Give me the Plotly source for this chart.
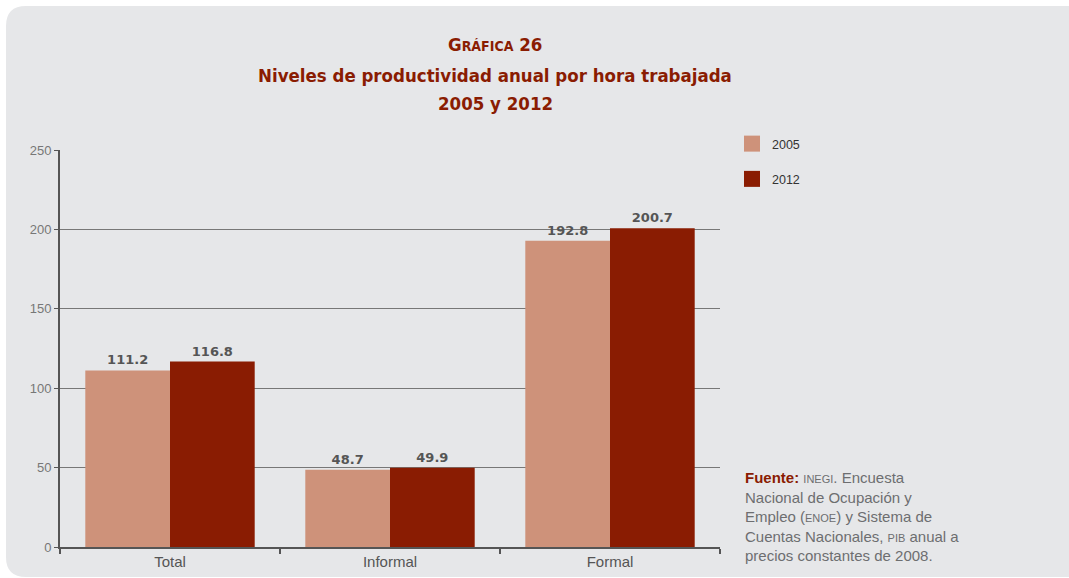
import plotly.graph_objects as go

categories = ["Total", "Informal", "Formal"]
years = ["2005", "2012"]
values_2005 = [111.2, 48.7, 192.8]
values_2012 = [116.8, 49.9, 200.7]
y_ticks = [0, 50, 100, 150, 200, 250]

W, H = 1069, 578
L, R, T, B = 60, 720, 150, 547  # plot area in pixels


def px(x, y):
    # pixel -> paper coords
    return (x - L) / (R - L), (B - y) / (B - T)


def panel_path(x0, y0, x1, y1, r):
    pts = [
        ("M", (x0 + r, y0)), ("L", (x1, y0)), ("L", (x1, y1)), ("L", (x0 + r, y1)),
        ("Q", (x0, y1), (x0, y1 - r)), ("L", (x0, y0 + r)), ("Q", (x0, y0), (x0 + r, y0)),
    ]
    out = ""
    for p in pts:
        cmd, coords = p[0], p[1:]
        out += cmd + " ".join("%.5f,%.5f" % px(*c) for c in coords) + " "
    return out + "Z"


col_2005 = "#CE927A"
col_2012 = "#8A1C02"
red = "#8A1C02"

fig = go.Figure()
for name, vals, col in [(years[0], values_2005, col_2005), (years[1], values_2012, col_2012)]:
    fig.add_trace(go.Bar(
        x=categories, y=vals, name=name, marker_color=col, marker_line_width=0,
        texttemplate="<b>%{y:.1f}</b>", textposition="outside", cliponaxis=False,
        textfont=dict(family="DejaVu Sans, sans-serif", size=13, color="#555"),
        showlegend=False,
    ))
    # bigger legend swatch
    fig.add_trace(go.Scatter(
        x=[None], y=[None], mode="markers", name=name, legendgroup=name,
        marker=dict(symbol="square", size=16, color=col),
    ))

fig.update_layout(
    width=W, height=H,
    margin=dict(l=L, r=W - R, t=T, b=H - B),
    paper_bgcolor="white", plot_bgcolor="rgba(0,0,0,0)",
    barmode="group", bargap=0.23, bargroupgap=0,
    font=dict(family="Liberation Sans, Arial, sans-serif", color="#555"),
    legend=dict(
        x=px(732, 0)[0], y=px(0, 129)[1], xanchor="left", yanchor="top",
        bgcolor="rgba(0,0,0,0)", font=dict(size=12.5, color="#333"),
        tracegroupgap=16, traceorder="grouped", itemsizing="trace",
    ),
    xaxis=dict(
        showline=True, linecolor="#555", linewidth=2, ticks="outside", tickson="boundaries",
        tickcolor="#555", ticklen=5, tickwidth=2, showgrid=False, automargin=False,
        tickfont=dict(size=15, color="#555"),
    ),
    yaxis=dict(
        range=[0, 250], tickvals=y_ticks, showline=True, linecolor="#555", linewidth=2,
        ticks="outside", tickcolor="#555", ticklen=4, tickwidth=1, automargin=False,
        showgrid=True, gridcolor="#777", gridwidth=1, zeroline=False,
        tickfont=dict(size=13, color="#777"),
    ),
    shapes=[dict(
        type="path", xref="paper", yref="paper", path=panel_path(6, 6, 1080, 577, 20),
        fillcolor="#E6E7E9", line_width=0, layer="below",
    )],
)

title_font = dict(family="DejaVu Sans Condensed, sans-serif", size=18.5, color=red)
cx = px(495, 0)[0]
ann = [
    ("<b>G<span style='font-size:14px'>RÁFICA</span> 26</b>", 45),
    ("<b>Niveles de productividad anual por hora trabajada</b>", 75),
    ("<b>2005 y 2012</b>", 104),
]
for txt, yy in ann:
    fig.add_annotation(text=txt, x=cx, y=px(0, yy)[1], xref="paper", yref="paper",
                       showarrow=False, font=title_font, xanchor="center", yanchor="middle")

source = ("<b><span style='color:%s'>Fuente:</span></b> <span style='font-size:11px'>INEGI</span>. Encuesta<br>"
          "Nacional de Ocupación y<br>"
          "Empleo (<span style='font-size:11px'>ENOE</span>) y Sistema de<br>"
          "Cuentas Nacionales, <span style='font-size:11px'>PIB</span> anual a<br>"
          "precios constantes de 2008.") % red
fig.add_annotation(text=source, x=px(743, 0)[0], y=px(0, 467)[1], xref="paper", yref="paper",
                   showarrow=False, align="left", xanchor="left", yanchor="top",
                   font=dict(family="Liberation Sans, Arial, sans-serif", size=15, color="#6D6E70"))

fig.write_html("out.html", config={"displayModeBar": False},
               post_script="document.body.style.margin='0';")
